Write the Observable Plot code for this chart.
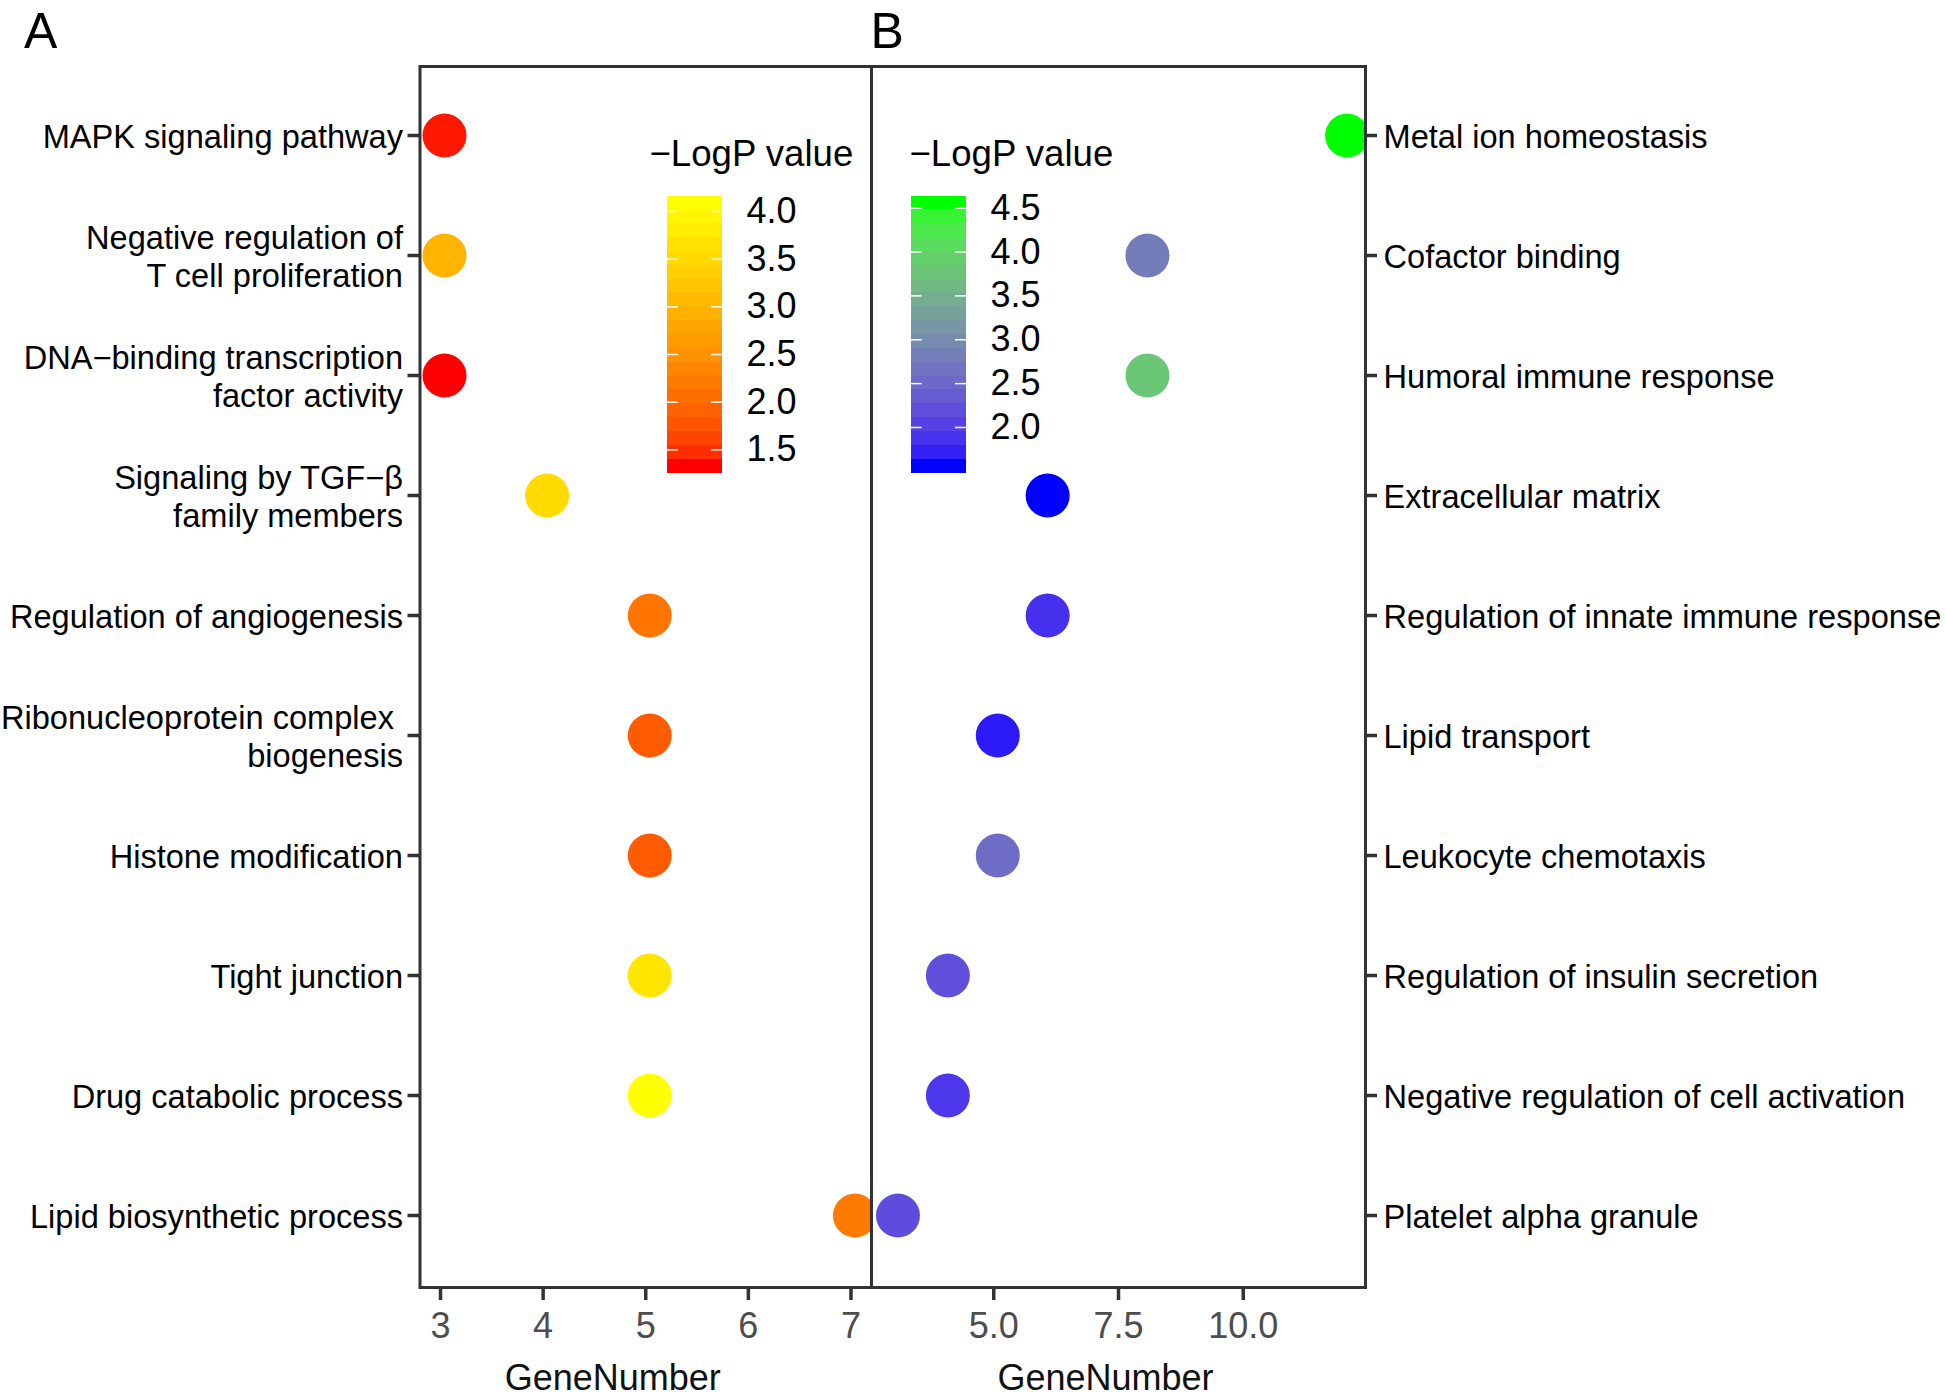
<!DOCTYPE html>
<html>
<head>
<meta charset="utf-8">
<script src="https://cdn.jsdelivr.net/npm/d3@7"></script>
<script src="https://cdn.jsdelivr.net/npm/@observablehq/plot@0.6"></script>
<style>
  html, body { margin: 0; padding: 0; background: #ffffff; }
  #chart { position: relative; width: 1946px; height: 1397px; background: #ffffff; overflow: hidden; }
  #chart svg { position: absolute; left: 0; top: 0; }
</style>
</head>
<body>
<div id="chart"></div>
<script>
// ---------- data ----------
const termsA = [
  "MAPK signaling pathway",
  "Negative regulation of\nT cell proliferation",
  "DNA\u2212binding transcription\nfactor activity",
  "Signaling by TGF\u2212\u03b2\nfamily members",
  "Regulation of angiogenesis",
  "Ribonucleoprotein complex\u00a0\nbiogenesis",
  "Histone modification",
  "Tight junction",
  "Drug catabolic process",
  "Lipid biosynthetic process"
];
const geneA = [3, 3, 3, 4, 5, 5, 5, 5, 5, 7];
const logpA = [1.38, 2.98, 1.33, 3.54, 2.13, 1.84, 1.84, 3.69, 4.09, 2.19];

const termsB = [
  "Metal ion homeostasis",
  "Cofactor binding",
  "Humoral immune response",
  "Extracellular matrix",
  "Regulation of innate immune response",
  "Lipid transport",
  "Leukocyte chemotaxis",
  "Regulation of insulin secretion",
  "Negative regulation of cell activation",
  "Platelet alpha granule"
];
const geneB = [12, 8, 8, 6, 6, 5, 5, 4, 4, 3];
const logpB = [4.56, 2.79, 3.79, 1.56, 1.86, 1.68, 2.57, 2.20, 1.93, 2.17];

const xTicksA = [3, 4, 5, 6, 7];
const xTicksB = [5, 7.5, 10];
const legendTicksA = [1.5, 2.0, 2.5, 3.0, 3.5, 4.0];
const legendTicksB = [2.0, 2.5, 3.0, 3.5, 4.0, 4.5];
const xLabel = "GeneNumber";
const legendTitle = "\u2212LogP value";

// ---------- layout ----------
const W = 1946, H = 1397;
const FONT = "'Liberation Sans', Arial, Helvetica, sans-serif";
const frameTop = 66, frameBottom = 1287;
const rowFirst = 133, rowLast = 1216;
const aLeft = 419.5, mid = 871, bRight = 1365;

const dataA = termsA.map((t, i) => ({term: t, gene: geneA[i], logp: logpA[i]}));
const dataB = termsB.map((t, i) => ({term: t, gene: geneB[i], logp: logpB[i]}));

const colorA = {type: "linear", domain: d3.extent(logpA), range: ["#ff0000", "#ffff00"], interpolate: d3.interpolateLab};
const colorB = {type: "linear", domain: d3.extent(logpB), range: ["#0000ff", "#00ff00"], interpolate: d3.interpolateLab};

const baseStyle = {background: "transparent", overflow: "visible", fontFamily: FONT, fontSize: "33px", color: "#000"};

function panel(cfg) {
  return Plot.plot({
    width: W, height: H,
    marginLeft: cfg.left, marginRight: W - cfg.right,
    marginTop: frameTop, marginBottom: H - frameBottom,
    style: baseStyle,
    x: {domain: cfg.xDomain},
    y: {type: "point", domain: cfg.terms, range: [rowFirst, rowLast], padding: 0},
    color: cfg.color,
    marks: [
      Plot.dot(cfg.data, {x: "gene", y: "term", fill: "logp", r: 22, dx: 4, clip: true}),
      Plot.frame({stroke: "#333333", strokeWidth: 3}),
      Plot.axisY({
        anchor: cfg.yAnchor, tickSize: cfg.tickSizeY, tickPadding: cfg.tickPadY,
        fontSize: 32.6, lineHeight: 1.18, stroke: "#333333", strokeWidth: 3.5,
        fill: "#000000", label: null
      }),
      Plot.axisX({
        anchor: "bottom", ticks: cfg.xTicks, tickFormat: cfg.xFormat,
        tickSize: 13, tickPadding: 12, fontSize: 36,
        stroke: "#333333", strokeWidth: 3.5, fill: "#4d4d4d", label: null
      }),
      Plot.text([xLabel], {
        text: d => d, frameAnchor: "bottom", dx: cfg.titleDx, dy: 102,
        lineAnchor: "bottom", fontSize: 36, fill: "#111111"
      }),
      Plot.text([cfg.letter], {
        text: d => d, frameAnchor: "top-left", dx: cfg.letterDx, dy: -19,
        textAnchor: "start", lineAnchor: "bottom", fontSize: 50, fill: "#000000"
      })
    ]
  });
}

function legend(cfg) {
  const [lo, hi] = cfg.color.domain;
  const r = hi - lo;
  const nbin = 20;
  const half = r / (2 * (nbin - 1));
  const bins = d3.range(nbin).map(i => ({
    y1: lo - half + i * r / (nbin - 1),
    y2: lo - half + (i + 1) * r / (nbin - 1),
    v: lo + i * r / (nbin - 1)
  }));
  return Plot.plot({
    width: W, height: H,
    marginLeft: cfg.barLeft, marginRight: W - cfg.barRight,
    marginTop: 195.5, marginBottom: H - 472.5,
    style: baseStyle,
    x: {domain: [0, 1], axis: null},
    y: {domain: [lo - half, hi + half]},
    color: cfg.color,
    marks: [
      Plot.rect(bins, {x1: 0, x2: 1, y1: "y1", y2: "y2", fill: "v", shapeRendering: "crispEdges"}),
      Plot.ruleY(cfg.ticks, {y: d => d, x1: 0, x2: 0.2, stroke: "#ffffff", strokeWidth: 1.5}),
      Plot.ruleY(cfg.ticks, {y: d => d, x1: 0.8, x2: 1, stroke: "#ffffff", strokeWidth: 1.5}),
      Plot.axisY({
        anchor: "right", ticks: cfg.ticks, tickFormat: ".1f", tickSize: 0, tickPadding: 24,
        fontSize: 36, fill: "#000000", label: null
      }),
      Plot.text([legendTitle], {
        text: d => d, frameAnchor: "top-left", dx: cfg.titleDx, dy: -30,
        textAnchor: "start", lineAnchor: "bottom", fontSize: 36.6, fill: "#000000"
      })
    ]
  });
}

const chart = document.getElementById("chart");

chart.appendChild(panel({
  data: dataA, terms: termsA, left: aLeft, right: mid,
  xDomain: [2.8, 7.2], xTicks: xTicksA, xFormat: "d", color: colorA,
  yAnchor: "left", tickSizeY: 12, tickPadY: 5, titleDx: -33,
  letter: "A", letterDx: -396
}));

chart.appendChild(panel({
  data: dataB, terms: termsB, left: mid, right: bRight,
  xDomain: [2.55, 12.45], xTicks: xTicksB, xFormat: ".1f", color: colorB,
  yAnchor: "right", tickSizeY: 11, tickPadY: 7, titleDx: -13,
  letter: "B", letterDx: -1
}));

chart.appendChild(legend({color: colorA, barLeft: 667, barRight: 722, ticks: legendTicksA, titleDx: -18}));
chart.appendChild(legend({color: colorB, barLeft: 910.5, barRight: 966, ticks: legendTicksB, titleDx: -1.5}));
</script>
</body>
</html>
